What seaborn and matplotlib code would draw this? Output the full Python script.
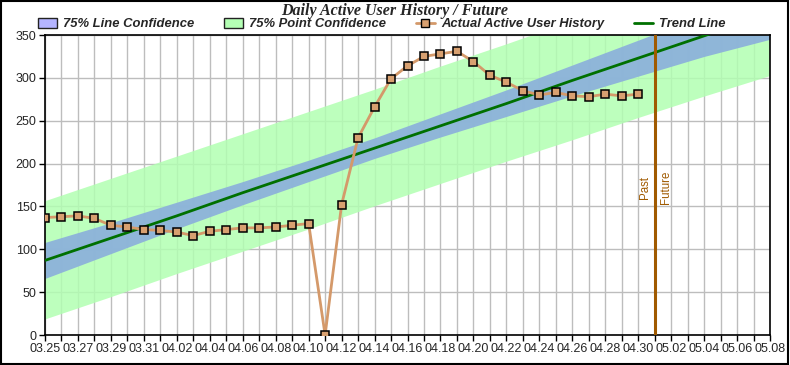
import numpy as np
import pandas as pd
import matplotlib
matplotlib.use("Agg")
import matplotlib.pyplot as plt
import matplotlib.patches as mpatches
import matplotlib.lines as mlines
from matplotlib.ticker import MultipleLocator, FixedLocator, FixedFormatter
import seaborn as sns

# ---------------- data ----------------
history_dates = ["03.25", "03.26", "03.27", "03.28", "03.29", "03.30", "03.31",
                 "04.01", "04.02", "04.03", "04.04", "04.05", "04.06", "04.07",
                 "04.08", "04.09", "04.10", "04.11", "04.12", "04.13", "04.14",
                 "04.15", "04.16", "04.17", "04.18", "04.19", "04.20", "04.21",
                 "04.22", "04.23", "04.24", "04.25", "04.26", "04.27", "04.28",
                 "04.29", "04.30"]
active_users = [137, 138, 139, 136, 128, 126, 123,
                122, 120, 116, 121, 123, 125, 125,
                126, 128, 130, 0, 152, 230, 266,
                299, 314, 325, 328, 331, 319, 303,
                295, 285, 280, 283, 279, 278, 281,
                279, 281]

band_dates = ["03.25", "03.29", "04.02", "04.06", "04.10", "04.14",
              "04.18", "04.22", "04.26", "04.30", "05.04", "05.08"]
trend_values = [87, 113, 139, 166, 192, 218, 244, 270, 297, 323, 349, 375]
line_conf_low = [66, 95, 124, 152, 179, 206, 231, 255, 279, 302, 325, 345]
line_conf_high = [108, 131, 155, 179, 204, 230, 258, 286, 315, 344, 373, 405]
point_conf_low = [18, 44, 71, 97, 123, 150, 176, 202, 227, 253, 278, 302]
point_conf_high = [156, 182, 208, 234, 260, 286, 313, 339, 366, 393, 420, 449]

tick_labels = ["03.25", "03.27", "03.29", "03.31", "04.02", "04.04", "04.06",
               "04.08", "04.10", "04.12", "04.14", "04.16", "04.18", "04.20",
               "04.22", "04.24", "04.26", "04.28", "04.30", "05.02", "05.04",
               "05.06", "05.08"]
divider_date = "05.01"
divider_labels = ["Past", "Future"]

title = "Daily Active User History / Future"
legend_labels = ["75% Line Confidence", "75% Point Confidence",
                 "Actual Active User History", "Trend Line"]

# ---------------- helpers ----------------
start = pd.to_datetime("2000." + history_dates[0], format="%Y.%m.%d")


def to_day(s):
    return (pd.to_datetime("2000." + s, format="%Y.%m.%d") - start).days


hist = pd.DataFrame({"day": [to_day(d) for d in history_dates],
                     "users": active_users})
band = pd.DataFrame({"day": [to_day(d) for d in band_dates],
                     "trend": trend_values,
                     "llo": line_conf_low, "lhi": line_conf_high,
                     "plo": point_conf_low, "phi": point_conf_high})
tick_pos = [to_day(d) for d in tick_labels]
end_day = tick_pos[-1]

# ---------------- style ----------------
sns.set_theme(style="white")
plt.rcParams["font.family"] = ["Liberation Sans", "DejaVu Sans"]

fig = plt.figure(figsize=(7.9, 3.65), dpi=100)
ax = fig.add_axes([45 / 790, 30 / 365, 725 / 790, 300 / 365])

green_band = "#b2ffb2"
blue_band = "#8aaedc"
hist_line = "#d4996a"
hist_marker = "#d8a070"
trend_col = "#007000"
divider_col = "#a05a00"

ax.fill_between(band["day"], band["plo"], band["phi"], color=green_band,
                linewidth=0, zorder=1, alpha=0.85)
ax.fill_between(band["day"], band["llo"], band["lhi"], color=blue_band,
                linewidth=0, zorder=2, alpha=0.9)

sns.lineplot(data=band, x="day", y="trend", ax=ax, color=trend_col,
             linewidth=2, zorder=4)
sns.lineplot(data=hist, x="day", y="users", ax=ax, color=hist_line,
             linewidth=2, marker="s", markersize=5.3,
             markerfacecolor=hist_marker, markeredgecolor="black",
             markeredgewidth=1.1, zorder=5)

div = to_day(divider_date)
ax.axvline(div, color=divider_col, linewidth=2.2, zorder=6)
ax.text(div - 0.25, 172, divider_labels[0], rotation=90, color=divider_col,
        ha="right", va="center", fontsize=8.3)
ax.text(div + 0.3, 172, divider_labels[1], rotation=90, color=divider_col,
        ha="left", va="center", fontsize=8.3)

ax.set_xlim(0, end_day)
ax.set_ylim(0, 350)
ax.xaxis.set_major_locator(FixedLocator(tick_pos))
ax.xaxis.set_major_formatter(FixedFormatter(tick_labels))
ax.xaxis.set_minor_locator(MultipleLocator(1))
ax.yaxis.set_major_locator(MultipleLocator(50))
ax.set_axisbelow(True)
ax.grid(True, which="both", axis="x", color="#bdbdbd", linewidth=1)
ax.grid(True, which="major", axis="y", color="#bdbdbd", linewidth=1)
ax.tick_params(axis="both", which="both", direction="out", length=4,
               width=1, color="black", labelsize=9, pad=2,
               bottom=True, left=True)
ax.tick_params(axis="x", which="minor", length=4)
ax.set_xlabel("")
ax.set_ylabel("")
for sp in ax.spines.values():
    sp.set_color("black")
    sp.set_linewidth(1.2)

fig.text(395 / 790, 1 - 11 / 365, title, ha="center", va="center",
         family=["Liberation Serif"], fontsize=11.5, fontweight="bold",
         fontstyle="italic")

handles = [
    mpatches.Patch(facecolor="#b4b4ff", edgecolor="#222222", linewidth=1),
    mpatches.Patch(facecolor="#b4ffb4", edgecolor="#222222", linewidth=1),
    mlines.Line2D([], [], color=hist_line, linewidth=2, marker="s",
                  markersize=5.3, markerfacecolor=hist_marker,
                  markeredgecolor="black"),
    mlines.Line2D([], [], color=trend_col, linewidth=2),
]
fig.legend(handles, legend_labels, loc="center",
           bbox_to_anchor=(382 / 790, 1 - 24 / 365), ncol=4, frameon=False,
           prop={"family": "Liberation Sans", "weight": "bold",
                 "style": "italic", "size": 9.4},
           handlelength=1.4, handleheight=0.8, handletextpad=0.5,
           columnspacing=2.3, borderpad=0)

fig.add_artist(mpatches.Rectangle((0.001, 0.002), 0.997, 0.996,
                                  transform=fig.transFigure, fill=False,
                                  edgecolor="black", linewidth=1.5))

fig.savefig("out.png", dpi=100)
